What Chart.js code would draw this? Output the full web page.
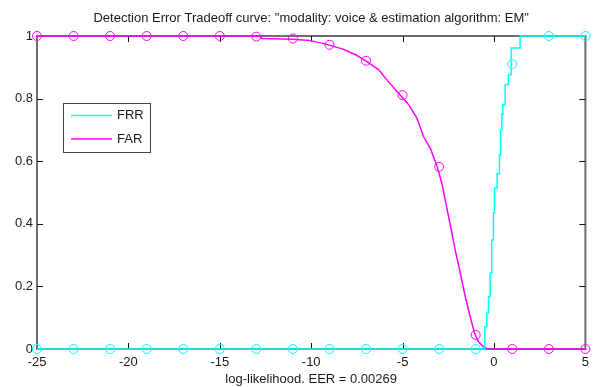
<!DOCTYPE html>
<html><head><meta charset="utf-8">
<script src="https://cdn.jsdelivr.net/npm/chart.js@4.4.1/dist/chart.umd.min.js"></script>
<style>html,body{margin:0;padding:0;background:#fff;}#wrap{width:595px;height:387px;position:relative;}</style>
</head><body><div id="wrap"><canvas id="c"></canvas></div>
<script>
const titleText = 'Detection Error Tradeoff curve: "modality: voice & estimation algorithm: EM"';
const xLabel = 'log-likelihood. EER = 0.00269';
const seriesNames = ['FRR', 'FAR'];
const seriesColors = ['#00ffff', '#ff00ff'];
const xTicks = [-25, -20, -15, -10, -5, 0, 5];
const xTickLabels = ['-25', '-20', '-15', '-10', '-5', '0', '5'];
const yTicks = [0, 0.2, 0.4, 0.6, 0.8, 1];
const yTickLabels = ['0', '0.2', '0.4', '0.6', '0.8', '1'];

// sampled markers (every 2 units)
const markerX = [-25, -23, -21, -19, -17, -15, -13, -11, -9, -7, -5, -3, -1, 1, 3, 5];
const frrMarkers = [0, 0, 0, 0, 0, 0, 0, 0, 0, 0, 0, 0, 0, 0.91, 1, 1];
const farMarkers = [1, 1, 1, 1, 1, 1, 0.998, 0.992, 0.972, 0.921, 0.811, 0.582, 0.045, 0, 0, 0];

// FRR curve (stepped)
const frrX = [-25, -0.50, -0.50, -0.39, -0.30, -0.21, -0.12, -0.03, 0.03, 0.17, 0.30, 0.36, 0.43, 0.48, 0.61, 0.79, 0.94, 1.43, 5];
const frrY = [0, 0, 0.071, 0.115, 0.167, 0.243, 0.348, 0.435, 0.514, 0.56, 0.62, 0.70, 0.75, 0.78, 0.845, 0.876, 0.962, 1, 1];

// FAR curve
const farX = [-25, -12.8, -12.7, -11, -10.1, -9.2, -8.3, -7.57, -7.03, -6.3, -5.85, -5.12, -4.66, -4.21, -3.85, -3.48, -3.12, -2.85, -2.63, -2.39, -2.12, -1.84, -1.57, -1.30, -1.06, -0.85, -0.57, -0.39, -0.3, 5];
const farY = [1, 1, 0.992, 0.99, 0.986, 0.974, 0.959, 0.94, 0.921, 0.892, 0.859, 0.811, 0.78, 0.737, 0.678, 0.641, 0.585, 0.529, 0.465, 0.396, 0.316, 0.242, 0.167, 0.103, 0.05, 0.023, 0.007, 0.002, 0, 0];

const pts = (xs, ys) => xs.map((x, i) => ({x: x, y: ys[i]}));
const FONT = 'Liberation Sans, Arial, sans-serif';
const TXT = '#1a1a1a';

const decor = {
  id: 'decor',
  beforeDatasetsDraw(chart) {
    const {ctx, chartArea: a, scales: {x, y}} = chart;
    ctx.save();
    ctx.strokeStyle = '#6e6e6e'; ctx.lineWidth = 2;
    ctx.strokeRect(a.left, a.top, a.right - a.left, a.bottom - a.top);
    ctx.strokeStyle = '#111'; ctx.lineWidth = 1;
    ctx.beginPath();
    xTicks.forEach(v => {
      if (v === x.min || v === x.max) return;
      const p = Math.round(x.getPixelForValue(v)) + 0.5;
      ctx.moveTo(p, a.top); ctx.lineTo(p, a.top + 6);
      ctx.moveTo(p, a.bottom); ctx.lineTo(p, a.bottom - 6);
    });
    yTicks.forEach(v => {
      if (v === y.min || v === y.max) return;
      const p = Math.round(y.getPixelForValue(v)) + 0.5;
      ctx.moveTo(a.left, p); ctx.lineTo(a.left + 6, p);
      ctx.moveTo(a.right, p); ctx.lineTo(a.right - 6, p);
    });
    ctx.stroke();
    ctx.restore();
  },
  afterDraw(chart) {
    const {ctx, chartArea: a} = chart;
    ctx.save();
    ctx.fillStyle = TXT;
    ctx.font = '13px ' + FONT;
    ctx.textAlign = 'center'; ctx.textBaseline = 'middle';
    ctx.fillText(titleText, (a.left + a.right) / 2, 18);
    // legend
    const bx = 63.5, by = 103.5, bw = 87, bh = 49;
    ctx.fillStyle = '#fff';
    ctx.fillRect(bx, by, bw, bh);
    ctx.strokeStyle = '#444'; ctx.lineWidth = 1;
    ctx.strokeRect(bx, by, bw, bh);
    const ds = chart.data.datasets.filter(d => d.showLine !== false);
    ds.forEach((d, i) => {
      const ly = 115.5 + i * 23.5;
      ctx.strokeStyle = d.borderColor; ctx.lineWidth = 1.5;
      ctx.beginPath(); ctx.moveTo(71, ly); ctx.lineTo(112, ly); ctx.stroke();
      ctx.fillStyle = TXT; ctx.textAlign = 'left';
      ctx.fillText(d.label, 117, ly);
    });
    ctx.restore();
  }
};

new Chart(document.getElementById('c'), {
  type: 'line',
  data: {
    datasets: [
      {label: seriesNames[0], data: pts(frrX, frrY), borderColor: seriesColors[0], borderWidth: 1.5, pointRadius: 0, stepped: 'before', fill: false, clip: 6},
      {label: seriesNames[1], data: pts(farX, farY), borderColor: seriesColors[1], borderWidth: 1.5, pointRadius: 0, tension: 0, fill: false, clip: 6},
      {label: seriesNames[0] + ' markers', data: pts(markerX, frrMarkers), showLine: false, borderColor: seriesColors[0], backgroundColor: 'rgba(0,0,0,0)', pointRadius: 4.5, pointBorderWidth: 1, clip: 8},
      {label: seriesNames[1] + ' markers', data: pts(markerX, farMarkers), showLine: false, borderColor: seriesColors[1], backgroundColor: 'rgba(0,0,0,0)', pointRadius: 4.5, pointBorderWidth: 1, clip: 8}
    ]
  },
  options: {
    responsive: true, maintainAspectRatio: false, animation: false,
    layout: {padding: {left: 0, right: 8, top: 36, bottom: 0}},
    plugins: {legend: {display: false}, title: {display: false}, tooltip: {enabled: false}},
    scales: {
      x: {
        type: 'linear', min: -25, max: 5,
        afterBuildTicks: s => { s.ticks = xTicks.map(v => ({value: v})); },
        afterFit: s => { s.height = 38; },
        grid: {display: false, drawTicks: false}, border: {display: false},
        ticks: {padding: 6, color: TXT, font: {family: FONT, size: 13}, maxRotation: 0, autoSkip: false,
          callback: (v) => { const i = xTicks.indexOf(v); return i >= 0 ? xTickLabels[i] : ''; }},
        title: {display: true, text: xLabel, color: TXT, font: {family: FONT, size: 13}, padding: {top: 0, bottom: 0}}
      },
      y: {
        type: 'linear', min: 0, max: 1,
        afterBuildTicks: s => { s.ticks = yTicks.map(v => ({value: v})); },
        afterFit: s => { s.width = 37; },
        grid: {display: false, drawTicks: false}, border: {display: false},
        ticks: {padding: 4, color: TXT, font: {family: FONT, size: 13}, autoSkip: false,
          callback: (v) => { const i = yTicks.findIndex(t => Math.abs(t - v) < 1e-9); return i >= 0 ? yTickLabels[i] : ''; }}
      }
    }
  },
  plugins: [decor]
});
</script></body></html>
